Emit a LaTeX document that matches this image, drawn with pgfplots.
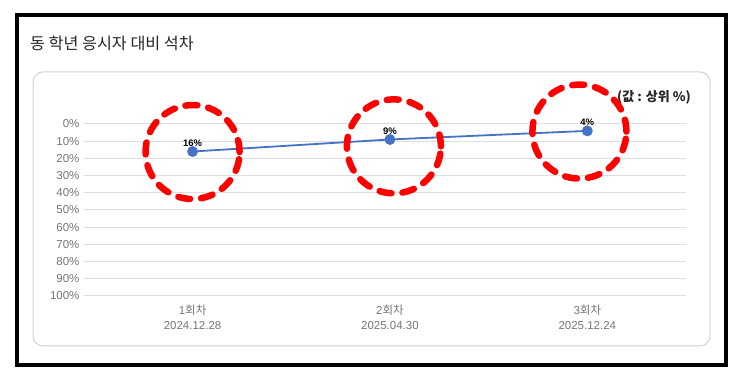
\documentclass[border=0pt]{standalone}
\usepackage{pgfplots}
\pgfplotsset{compat=1.18}
\usepackage{fontspec}
\setmainfont{Liberation Sans}
\newfontfamily\kr{Noto Sans CJK KR}
\definecolor{lineblue}{RGB}{68,114,196}
\definecolor{gridgray}{RGB}{222,222,222}
\definecolor{tickgray}{RGB}{118,118,118}
\definecolor{framegray}{RGB}{210,210,210}
\begin{document}
\begin{tikzpicture}
% canvas
\fill[white] (0pt,0pt) rectangle (743pt,382pt);
\draw[black, line width=4.5pt] (17pt,17pt) rectangle (726pt,367pt);
\draw[framegray, line width=1pt, rounded corners=10pt] (33pt,36pt) rectangle (710pt,310pt);
\node[anchor=west, inner sep=0pt, text=black!85] at (30pt,339pt) {\kr\fontsize{16.2}{18}\selectfont 동 학년 응시자 대비 석차};
\node[anchor=east, inner sep=0pt, text=black!85] at (691pt,285pt) {\kr\bfseries\fontsize{13}{15}\selectfont (값 : 상위 \%)};
\begin{axis}[
  at={(84pt,86pt)}, anchor=south west,
  scale only axis, width=602pt, height=172pt,
  xmin=0.45, xmax=3.5, ymin=0, ymax=100,
  y dir=reverse,
  axis line style={draw=none},
  major tick length=0pt,
  ytick={0,10,...,100},
  yticklabels={0\%,10\%,20\%,30\%,40\%,50\%,60\%,70\%,80\%,90\%,100\%},
  yticklabel style={font=\fontsize{11.5}{13}\selectfont, text=tickgray, xshift=-1pt},
  ymajorgrids, grid style={gridgray, line width=1pt},
  xtick={1,2,3},
  xticklabels={{1{\kr 회차}\\2024.12.28},{2{\kr 회차}\\2025.04.30},{3{\kr 회차}\\2025.12.24}},
  xticklabel style={font=\fontsize{11.5}{15}\selectfont, text=tickgray, align=center, yshift=-5pt},
  clip=false,
]
\addplot[lineblue, line width=1.8pt, mark=*, mark size=4.5pt, mark options={fill=lineblue, draw=lineblue},
  nodes near coords={\pgfmathprintnumber[assume math mode=true]{\pgfplotspointmeta}\%},
  point meta=explicit,
  every node near coord/.append style={font=\bfseries\fontsize{9.5}{11}\selectfont, text=black, anchor=south, yshift=1pt}]
  coordinates {(1,16) [16] (2,9) [9] (3,4) [4]};
\addplot[only marks, mark=o, mark size=47pt,
  mark options={draw=red, line width=6.5pt, dash pattern=on 12pt off 11pt, line cap=round, fill=none}]
  coordinates {(1,16.3) (2.02,13) (2.96,4.4)};
\end{axis}
\end{tikzpicture}
\end{document}
